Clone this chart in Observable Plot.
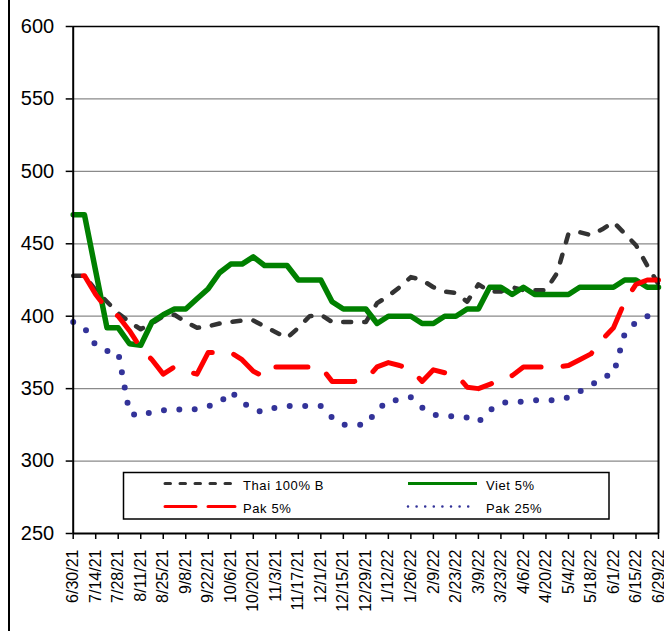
<!DOCTYPE html>
<html><head><meta charset="utf-8">
<script src="https://cdn.jsdelivr.net/npm/d3@7"></script>
<script src="https://cdn.jsdelivr.net/npm/@observablehq/plot@0.6"></script>
<style>
body{margin:0;background:#fff;}
#wrap{position:relative;width:664px;height:631px;overflow:hidden;background:#fff;}
#edge{position:absolute;left:8px;top:0;width:2px;height:631px;background:#000;}
</style></head><body><div id="wrap"><div id="edge"></div></div>
<script>
const weeks = ["6/30/21","7/7/21","7/14/21","7/21/21","7/28/21","8/4/21","8/11/21","8/18/21","8/25/21","9/1/21","9/8/21","9/15/21","9/22/21","9/29/21","10/6/21","10/13/21","10/20/21","10/27/21","11/3/21","11/10/21","11/17/21","11/24/21","12/1/21","12/8/21","12/15/21","12/22/21","12/29/21","1/5/22","1/12/22","1/19/22","1/26/22","2/2/22","2/9/22","2/16/22","2/23/22","3/2/22","3/9/22","3/16/22","3/23/22","3/30/22","4/6/22","4/13/22","4/20/22","4/27/22","5/4/22","5/11/22","5/18/22","5/25/22","6/1/22","6/8/22","6/15/22","6/22/22","6/29/22"];
const tickLabels = ["6/30/21","7/14/21","7/28/21","8/11/21","8/25/21","9/8/21","9/22/21","10/6/21","10/20/21","11/3/21","11/17/21","12/1/21","12/15/21","12/29/21","1/12/22","1/26/22","2/9/22","2/23/22","3/9/22","3/23/22","4/6/22","4/20/22","5/4/22","5/18/22","6/1/22","6/15/22","6/29/22"];
const yTicks = [250,300,350,400,450,500,550,600];
const thai100B = [428,428,418,410,402,396,391,395,400,401,396,392,393,395,396,397,397,393,389,385,392,400,401,396,396,396,396,409,414,420,427,425,420,417,416,410,422,417,417,420,418,418,418,430,457,458,456,460,465,457,449,435,422];
const viet5 = [470,470,431,392,392,381,380,396,401,405,405,412,419,430,436,436,441,435,435,435,425,425,425,410,405,405,405,395,400,400,400,395,395,400,400,405,405,420,420,415,420,415,415,415,415,420,420,420,420,425,425,420,420];
const pak5 = [428,428,415,405,400,390,378,370,360,365,362,360,375,375,375,370,362,358,365,365,365,365,365,355,355,355,356,365,368,366,363,355,363,361,360,351,350,353,356,359,365,365,365,365,366,370,374,384,392,410,422,425,425];
const pak25 = [396,392,380,376,375,333,331,334,335,336,335,336,338,340,348,341,335,334,337,338,338,338,338,330,325,325,325,335,342,342,344,337,332,331,331,330,327,335,340,341,341,342,342,342,344,348,352,358,360,388,396,400,402];

const parse = d3.utcParse("%m/%d/%y");
const dates = weeks.map(parse);
const rows = vals => vals.map((v, i) => ({date: dates[i], value: v}));
const tickDates = tickLabels.map(parse);
const labelMap = new Map(tickDates.map((d, i) => [+d, tickLabels[i]]));
const x0 = dates[0], x1 = dates[dates.length - 1];

const chart = Plot.plot({
  width: 664, height: 631,
  marginLeft: 72.7, marginRight: 6, marginTop: 26, marginBottom: 98,
  style: {fontFamily: "'Liberation Sans', Arial, sans-serif", background: "white", color: "black", overflow: "visible"},
  x: {type: "utc", domain: [x0, x1]},
  y: {domain: [250, 600]},
  marks: [
    Plot.gridY(yTicks.slice(1, -1), {stroke: "#8a8a8a", strokeOpacity: 1, strokeWidth: 1.3}),
    Plot.lineY(rows(thai100B), {x: "date", y: "value", stroke: "#333333", strokeWidth: 4.5, strokeDasharray: "8 13", strokeLinecap: "round", strokeLinejoin: "round"}),
    Plot.lineY(rows(viet5), {x: "date", y: "value", stroke: "#008000", strokeWidth: 5.5, strokeLinejoin: "round"}),
    Plot.lineY(rows(pak5), {x: "date", y: "value", stroke: "#ff0000", strokeWidth: 5, strokeDasharray: "32 22", strokeDashoffset: 44, strokeLinecap: "round", strokeLinejoin: "round"}),
    Plot.lineY(rows(pak25), {x: "date", y: "value", stroke: "#333399", strokeWidth: 6, strokeDasharray: "0 15.5", strokeLinecap: "round"}),
    Plot.axisY({ticks: yTicks, tickSize: 7, tickPadding: 12, fontSize: 20, tickFormat: d => String(d), label: null, strokeWidth: 1.5}),
    Plot.axisX({ticks: tickDates, tickFormat: d => labelMap.get(+d), tickRotate: -90, tickSize: 6, tickPadding: 10, fontSize: 16, label: null, strokeWidth: 1.5}),
    Plot.ruleY([600], {stroke: "#000", strokeWidth: 1.5}),
    Plot.ruleY([250], {stroke: "#000", strokeWidth: 2}),
    Plot.ruleX([x0], {stroke: "#000", strokeWidth: 2}),
    Plot.ruleX([x1], {stroke: "#000", strokeWidth: 2})
  ]
});
document.getElementById("wrap").appendChild(chart);

// legend
const svg = d3.select(chart);
const lg = svg.append("g").attr("font-family", "'Liberation Sans', Arial, sans-serif").attr("font-size", 13).attr("text-anchor", "start");
lg.append("rect").attr("x", 123.5).attr("y", 472.5).attr("width", 485.5).attr("height", 46.5)
  .attr("fill", "white").attr("stroke", "black").attr("stroke-width", 1.5);
const entries = [
  {name: "Thai 100% B", x: 165, y: 483.5, stroke: "#333333", w: 3, dash: "5.5 9.5", cap: "round", len: 70},
  {name: "Viet 5%", x: 408, y: 483.5, stroke: "#008000", w: 3, dash: null, cap: "butt", len: 69},
  {name: "Pak 5%", x: 165, y: 506.5, stroke: "#ff0000", w: 3, dash: "31 12", cap: "round", len: 70},
  {name: "Pak 25%", x: 408, y: 506.5, stroke: "#333399", w: 2.6, dash: "0 8.6", cap: "round", len: 61}
];
for (const e of entries) {
  const l = lg.append("line").attr("x1", e.x).attr("x2", e.x + e.len).attr("y1", e.y).attr("y2", e.y)
    .attr("stroke", e.stroke).attr("stroke-width", e.w).attr("stroke-linecap", e.cap);
  if (e.dash) l.attr("stroke-dasharray", e.dash);
  lg.append("text").attr("x", e.x + 78).attr("y", e.y + 6.5).attr("fill", "black")
    .attr("text-anchor", "start").attr("letter-spacing", "0.6px").text(e.name);
}
</script></body></html>
